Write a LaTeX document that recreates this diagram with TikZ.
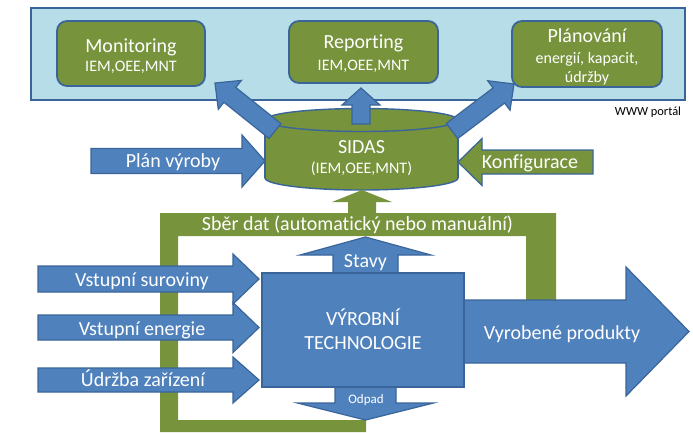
\documentclass[tikz,border=0pt]{standalone}
\usepackage{fontspec}
\setmainfont{Carlito}[Ligatures={NoCommon,NoRare,NoContextual}]
\usetikzlibrary{calc}
\definecolor{ablue}{HTML}{4F81BD}
\definecolor{bline}{HTML}{3A659A}
\definecolor{agreen}{HTML}{77933C}
\definecolor{panelc}{HTML}{B7DEE8}
% #1 tail, #2 tip, #3 body half width, #4 head half width, #5 head length, #6 style
\newcommand\blockarr[6]{%
  \coordinate (bah) at ($(#2)!#5!(#1)$);
  \path[#6] ($(#1)!#3!90:(#2)$) -- ($(bah)!#3!90:(#2)$) -- ($(bah)!#4!90:(#2)$)
    -- (#2) -- ($(bah)!#4!-90:(#2)$) -- ($(bah)!#3!-90:(#2)$) -- ($(#1)!#3!-90:(#2)$) -- cycle;}
\begin{document}
\begin{tikzpicture}[x=1pt,y=-1pt, line join=miter,
  txt/.style={text=white, inner sep=0pt, text depth=0pt},
  big/.style={txt, font=\fontsize{20}{24}\selectfont, text height=12.8pt},
  mid/.style={txt, font=\fontsize{16}{19}\selectfont, text height=10.3pt},
  sml/.style={txt, font=\fontsize{13}{15}\selectfont, text height=8.4pt},
  tiny/.style={inner sep=0pt, text=black, font=\fontsize{12.4}{14}\selectfont, text height=8pt, text depth=0pt},
  barrow/.style={fill=ablue, draw=bline, line width=1.2pt},
  garrow/.style={fill=agreen, draw=bline, line width=1.2pt},
  gonly/.style={fill=agreen},
  gbox/.style={fill=agreen, draw=bline, line width=1.8pt, rounded corners=10pt, inner sep=0pt},
  cyl/.style={draw=bline, line width=1.4pt}]
\useasboundingbox (0,0) rectangle (693,432);
\fill[white] (0,0) rectangle (693,432);

% WWW portal panel
\node[fill=panelc, draw=bline, line width=1.5pt, minimum width=654pt, minimum height=92pt,
      inner sep=0pt, anchor=north west] (portal) at (30,7) {};
\node[gbox, minimum width=148pt, minimum height=65pt] (mon) at (131,53.5) {};
\node[gbox, minimum width=149pt, minimum height=62pt] (rep) at (363.5,52) {};
\node[gbox, minimum width=150pt, minimum height=66pt] (pla) at (587,54) {};

% green data-collection loop
\fill[agreen] (160,432) -- (160,213) -- (556,213) -- (556,300) -- (526,300) -- (526,236)
  -- (178,236) -- (178,420) -- (366,420) -- (366,432) -- cycle;

% SIDAS cylinder
\fill[agreen] (265,120) rectangle (458,178);
\fill[agreen] (361.5,178) ellipse[x radius=96.5, y radius=12];
\draw[cyl] (265,120) -- (265,178) (458,120) -- (458,178);
\begin{scope}
  \clip (250,178) rectangle (470,200);
  \draw[cyl] (361.5,178) ellipse[x radius=96.5, y radius=12];
\end{scope}
\draw[cyl, fill=agreen] (361.5,120) ellipse[x radius=96.5, y radius=11.5];
\coordinate (sidas) at (361.5,150);

% arrows out of SIDAS
\blockarr{275,131}{215,83}{9.5pt}{18.5pt}{19pt}{barrow}
\blockarr{361,124}{361,88}{9pt}{19pt}{17pt}{barrow}
\blockarr{452,131}{514,84}{9.5pt}{18.5pt}{19pt}{barrow}
% arrows into SIDAS
\blockarr{91,161}{265,161}{12.5pt}{26pt}{23pt}{barrow}
\blockarr{593,162}{458,162}{12pt}{23.5pt}{24pt}{garrow}
\blockarr{362,213}{362,190}{14pt}{30pt}{12pt}{gonly}

% inputs and outputs of the technology
\blockarr{38,279}{259,279}{13pt}{25pt}{26pt}{barrow}
\blockarr{38,327.5}{259,327.5}{12.5pt}{25pt}{26pt}{barrow}
\blockarr{38,380}{259,380}{12pt}{23pt}{26pt}{barrow}
\blockarr{464,331.5}{689,331.5}{31.5pt}{64.5pt}{63pt}{barrow}
\blockarr{365.5,273}{365.5,237}{32.5pt}{65.5pt}{18pt}{barrow}
\blockarr{365.5,387}{365.5,420}{30.5pt}{68pt}{17pt}{barrow}
\node[fill=ablue, draw=bline, line width=1.2pt, minimum width=202pt, minimum height=114pt,
      inner sep=0pt] (tech) at (363,330) {};

% texts
\node[big] (tmon) at (131,46) {Monitoring};
\node[mid] (tmon2) at (131,66) {IEM,OEE,MNT};
\node[big] (trep) at (363.5,42) {Reporting};
\node[mid] (trep2) at (363.5,65) {IEM,OEE,MNT};
\node[big] (tpla) at (587,36) {Plánování};
\node[mid] (tpla2) at (587,58) {energií, kapacit,};
\node[mid] (tpla3) at (587,77) {údržby};
\node[tiny] (twww) at (648,111) {WWW portál};
\node[big] (tsid) at (361.5,147) {SIDAS};
\node[mid] (tsid2) at (361.5,168) {(IEM,OEE,MNT)};
\node[big] (tplan) at (173,161) {Plán výroby};
\node[big] (tkonf) at (530,162) {Konfigurace};
\node[big] (tsber) at (357.5,224) {Sběr dat (automatický nebo manuální)};
\node[big] (tstav) at (365.5,261) {Stavy};
\node[big] (tsur) at (142,280) {Vstupní suroviny};
\node[big] (tene) at (142,329) {Vstupní energie};
\node[big] (tudr) at (143,380) {Údržba zařízení};
\node[big] (tvyr1) at (363,319) {VÝROBNÍ};
\node[big] (tvyr2) at (363,343) {TECHNOLOGIE};
\node[big] (tprod) at (562,333) {Vyrobené produkty};
\node[sml] (todp) at (366,399) {Odpad};
\end{tikzpicture}
\end{document}
